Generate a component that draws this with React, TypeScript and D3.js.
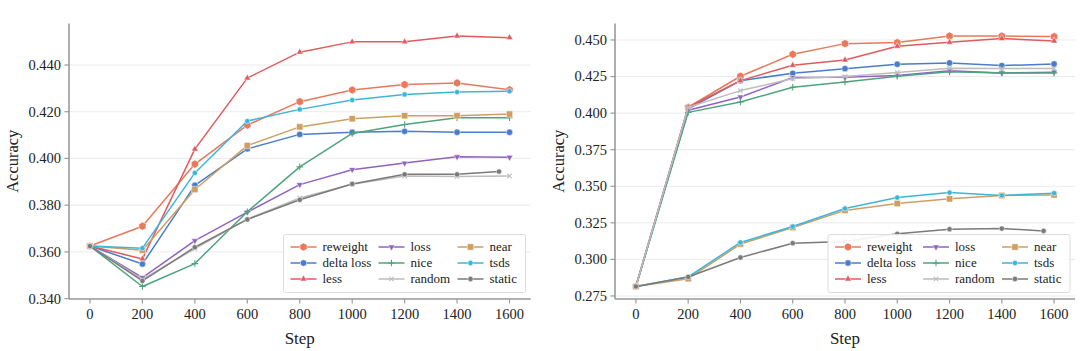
import React from "react";
import * as d3 from "d3";

// ---------- data ----------
const steps = [0, 200, 400, 600, 800, 1000, 1200, 1400, 1600];
const staticSteps = [0, 200, 400, 600, 800, 1000, 1200, 1400, 1560];
const xTicks = [0, 200, 400, 600, 800, 1000, 1200, 1400, 1600];
const yTicksA = [0.34, 0.36, 0.38, 0.4, 0.42, 0.44];
const yTicksB = [0.275, 0.3, 0.325, 0.35, 0.375, 0.4, 0.425, 0.45];

const seriesNames = ["reweight", "delta loss", "less", "loss", "nice", "random", "near", "tsds", "static"];

// left panel
const reweightA = [0.3625, 0.371, 0.3976, 0.4143, 0.4243, 0.4293, 0.4316, 0.4323, 0.4294];
const deltaLossA = [0.3625, 0.3548, 0.3885, 0.4041, 0.4103, 0.4112, 0.4116, 0.4112, 0.4112];
const lessA = [0.3625, 0.357, 0.404, 0.4344, 0.4455, 0.4499, 0.4499, 0.4524, 0.4517];
const lossA = [0.3625, 0.349, 0.3648, 0.377, 0.3888, 0.3952, 0.398, 0.4007, 0.4005];
const niceA = [0.3625, 0.3452, 0.355, 0.3772, 0.3964, 0.4107, 0.4145, 0.4174, 0.4174];
const randomA = [0.3625, 0.3482, 0.3614, 0.374, 0.3831, 0.389, 0.3925, 0.3923, 0.3925];
const nearA = [0.3625, 0.3607, 0.3867, 0.4055, 0.4135, 0.417, 0.4183, 0.4183, 0.419];
const tsdsA = [0.3625, 0.3616, 0.3938, 0.416, 0.421, 0.425, 0.4274, 0.4284, 0.4288];
const staticA = [0.3625, 0.3476, 0.362, 0.3739, 0.3823, 0.3891, 0.3932, 0.3932, 0.3944];

// right panel
const reweightB = [0.2815, 0.404, 0.4252, 0.4402, 0.4475, 0.4482, 0.4527, 0.4527, 0.4523];
const deltaLossB = [0.2815, 0.403, 0.4222, 0.4272, 0.4304, 0.4334, 0.4343, 0.4325, 0.4336];
const lessB = [0.2815, 0.404, 0.4222, 0.4327, 0.4363, 0.4457, 0.4484, 0.451, 0.4493];
const lossB = [0.2815, 0.402, 0.411, 0.4243, 0.4245, 0.4258, 0.4289, 0.4275, 0.428];
const niceB = [0.2815, 0.4005, 0.4076, 0.4177, 0.4213, 0.4252, 0.4282, 0.4275, 0.4275];
const randomB = [0.2815, 0.404, 0.4154, 0.4236, 0.425, 0.4277, 0.4307, 0.4305, 0.4305];
const nearB = [0.2815, 0.2868, 0.3105, 0.3218, 0.3335, 0.3382, 0.3414, 0.3437, 0.3441];
const tsdsB = [0.2815, 0.2881, 0.3116, 0.3225, 0.3348, 0.3423, 0.3457, 0.3437, 0.3453];
const staticB = [0.2815, 0.288, 0.3013, 0.3111, 0.3122, 0.3175, 0.3207, 0.3211, 0.3195];

// ---------- styles ----------
const colors: Record<string, string> = {
  reweight: "#E8795B",
  "delta loss": "#4A7DC9",
  less: "#E25A5E",
  loss: "#9262C0",
  nice: "#4EA37E",
  random: "#BDBDBD",
  near: "#CF9E62",
  tsds: "#3DB5DA",
  static: "#7A7A7A",
};

const hexagon = {
  draw(ctx: any, size: number) {
    const r = Math.sqrt((2 * size) / (3 * Math.sqrt(3)));
    for (let i = 0; i < 6; i++) {
      const a = (Math.PI / 3) * i + Math.PI / 6;
      const px = r * Math.cos(a);
      const py = r * Math.sin(a);
      if (i === 0) ctx.moveTo(px, py);
      else ctx.lineTo(px, py);
    }
    ctx.closePath();
  },
};
const triDown = {
  draw(ctx: any, size: number) {
    const s = Math.sqrt((size * 4) / Math.sqrt(3));
    const h = (s * Math.sqrt(3)) / 2;
    ctx.moveTo(-s / 2, -h / 3);
    ctx.lineTo(s / 2, -h / 3);
    ctx.lineTo(0, (2 * h) / 3);
    ctx.closePath();
  },
};

type MStyle = { type: any; size: number; stroke?: boolean };
const markers: Record<string, MStyle> = {
  reweight: { type: hexagon, size: 44 },
  "delta loss": { type: d3.symbolCircle, size: 32 },
  less: { type: d3.symbolTriangle, size: 20 },
  loss: { type: triDown, size: 20 },
  nice: { type: d3.symbolPlus, size: 16, stroke: true },
  random: { type: d3.symbolTimes, size: 14, stroke: true },
  near: { type: d3.symbolSquare, size: 40 },
  tsds: { type: d3.symbolCircle, size: 22 },
  static: { type: d3.symbolCircle, size: 22 },
};

const FONT = "'Liberation Serif', 'Times New Roman', Times, serif";

type Panel = {
  values: number[][];
  yTicks: number[];
  x0: number;
  x1: number;
};

const panels: Panel[] = [
  { values: [reweightA, deltaLossA, lessA, lossA, niceA, randomA, nearA, tsdsA, staticA], yTicks: yTicksA, x0: 69, x1: 530.5 },
  { values: [reweightB, deltaLossB, lessB, lossB, niceB, randomB, nearB, tsdsB, staticB], yTicks: yTicksB, x0: 615, x1: 1075 },
];

const Y0 = 23.5;
const Y1 = 299;

function Marker({ name, x, y }: { name: string; x: number; y: number }) {
  const m = markers[name];
  const d = d3.symbol().type(m.type).size(m.size)() as string;
  const c = colors[name];
  if (m.stroke) {
    return <path d={d} transform={`translate(${x},${y})`} fill="none" stroke={c} strokeWidth={1.1} />;
  }
  return <path d={d} transform={`translate(${x},${y})`} fill={c} stroke="#fff" strokeWidth={0.5} />;
}

function ChartPanel({ p }: { p: Panel }) {
  const xDomainPad = (d3.max(steps)! - d3.min(steps)!) * 0.05;
  const x = d3
    .scaleLinear()
    .domain([d3.min(steps)! - xDomainPad, d3.max(steps)! + xDomainPad])
    .range([p.x0, p.x1]);
  const all = p.values.flat();
  const lo = d3.min(all)!;
  const hi = d3.max(all)!;
  const pad = (hi - lo) * 0.05;
  const y = d3.scaleLinear().domain([lo - pad, hi + pad]).range([Y1, Y0]);
  const fmt = d3.format(".3f");
  const line = d3
    .line<[number, number]>()
    .x((d) => x(d[0]))
    .y((d) => y(d[1]));

  // legend geometry
  const lgW = 242;
  const lgH = 58;
  const lgX = p.x1 - 5 - lgW;
  const lgY = Y1 - 6.5 - lgH;
  const colOff = [0, 88, 167];
  const rowOff = [12.5, 28.5, 44.5];

  const axisColor = "#9a9a9a";
  const midX = (p.x0 + p.x1) / 2;
  const midY = (Y0 + Y1) / 2;

  return (
    <g>
      {p.yTicks.map((t) => (
        <line key={"g" + t} x1={p.x0} x2={p.x1} y1={y(t)} y2={y(t)} stroke="#ebebeb" strokeWidth={1} />
      ))}
      {seriesNames.map((name, i) => {
        const xs = name === "static" ? staticSteps : steps;
        const pts: [number, number][] = p.values[i].map((v, j) => [xs[j], v]);
        return (
          <g key={name}>
            <path d={line(pts)!} fill="none" stroke={colors[name]} strokeWidth={1.5} strokeLinejoin="round" />
            {pts.map((d, j) => (
              <Marker key={j} name={name} x={x(d[0])} y={y(d[1])} />
            ))}
          </g>
        );
      })}
      <line x1={p.x0} x2={p.x0} y1={Y0} y2={Y1} stroke={axisColor} strokeWidth={1.6} />
      <line x1={p.x0} x2={p.x1} y1={Y1} y2={Y1} stroke={axisColor} strokeWidth={1.6} />
      {p.yTicks.map((t) => (
        <g key={"y" + t}>
          <line x1={p.x0 - 4.5} x2={p.x0} y1={y(t)} y2={y(t)} stroke={axisColor} strokeWidth={1.2} />
          <text x={p.x0 - 8} y={y(t)} dy="0.34em" textAnchor="end" fontSize={14.5} fontFamily={FONT} fill="#222">
            {fmt(t)}
          </text>
        </g>
      ))}
      {xTicks.map((t) => (
        <g key={"x" + t}>
          <line x1={x(t)} x2={x(t)} y1={Y1} y2={Y1 + 4.5} stroke={axisColor} strokeWidth={1.2} />
          <text x={x(t)} y={Y1 + 19.5} textAnchor="middle" fontSize={14.5} fontFamily={FONT} fill="#222">
            {t}
          </text>
        </g>
      ))}
      <text x={midX} y={344} textAnchor="middle" fontSize={17} fontFamily={FONT} fill="#222">
        Step
      </text>
      <text
        transform={`translate(${p.x0 - 57},${midY}) rotate(-90)`}
        textAnchor="middle"
        dy="0.35em"
        fontSize={16.5}
        fontFamily={FONT}
        fill="#222"
      >
        Accuracy
      </text>
      <rect x={lgX} y={lgY} width={lgW} height={lgH} rx={2} fill="#fff" fillOpacity={0.9} stroke="#dcdcdc" strokeWidth={1} />
      {seriesNames.map((name, i) => {
        const col = Math.floor(i / 3);
        const row = i % 3;
        const lx = lgX + colOff[col];
        const ly = lgY + rowOff[row];
        return (
          <g key={"lg" + name}>
            <line x1={lx + 7} x2={lx + 33} y1={ly} y2={ly} stroke={colors[name]} strokeWidth={1.5} />
            <Marker name={name} x={lx + 20} y={ly} />
            <text x={lx + 39} y={ly} dy="0.33em" fontSize={13} fontFamily={FONT} fill="#222">
              {name}
            </text>
          </g>
        );
      })}
    </g>
  );
}

export default function App() {
  return (
    <svg width={1080} height={351} style={{ position: "absolute", left: 0, top: 0, background: "#fff" }}>
      <rect width={1080} height={351} fill="#fff" />
      {panels.map((p, i) => (
        <ChartPanel key={i} p={p} />
      ))}
    </svg>
  );
}
